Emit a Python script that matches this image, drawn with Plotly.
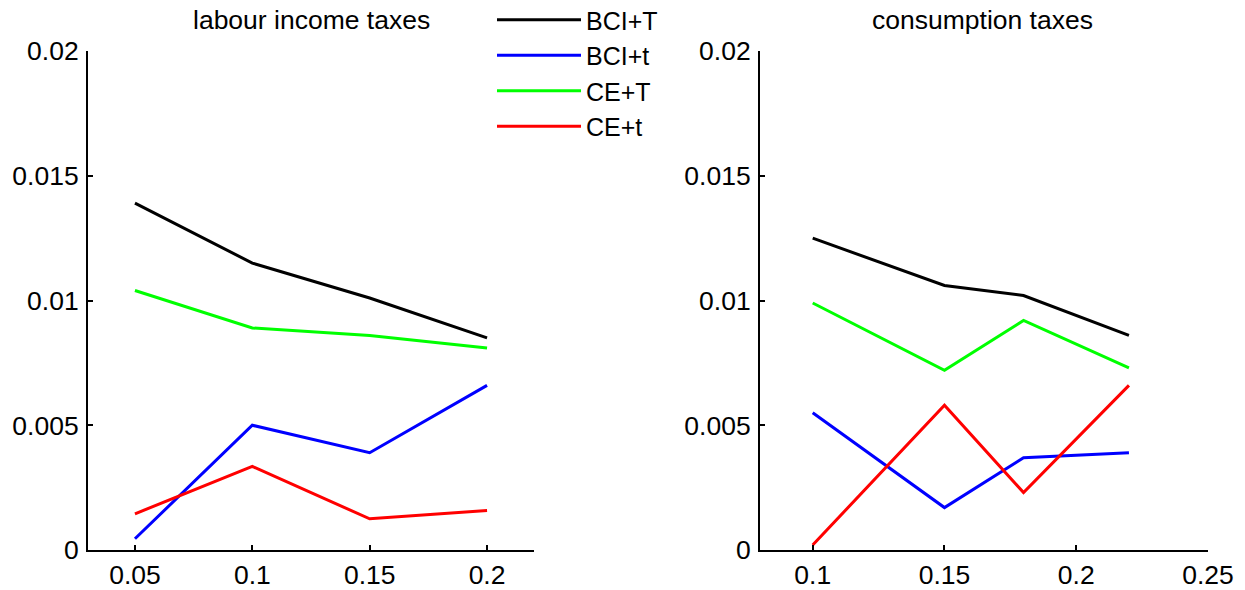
import plotly.graph_objects as go

# Labour income tax rates (left panel)
labour_x = [0.05, 0.10, 0.15, 0.20]
labour_bci_T = [0.0139, 0.0115, 0.0101, 0.0085]
labour_bci_t = [0.00045, 0.0050, 0.0039, 0.0066]
labour_ce_T = [0.0104, 0.0089, 0.0086, 0.0081]
labour_ce_t = [0.00145, 0.00335, 0.00125, 0.00158]

# Consumption tax rates (right panel)
cons_x = [0.10, 0.15, 0.18, 0.22]
cons_bci_T = [0.0125, 0.0106, 0.0102, 0.0086]
cons_bci_t = [0.0055, 0.0017, 0.0037, 0.0039]
cons_ce_T = [0.0099, 0.0072, 0.0092, 0.0073]
cons_ce_t = [0.0002, 0.0058, 0.0023, 0.0066]

series_names = ["BCI+T", "BCI+t", "CE+T", "CE+t"]
series_colors = ["#000000", "#0000ff", "#00ff00", "#ff0000"]

labour_x_ticks = [0.05, 0.10, 0.15, 0.20]
labour_x_labels = ["0.05", "0.1", "0.15", "0.2"]
cons_x_ticks = [0.10, 0.15, 0.20, 0.25]
cons_x_labels = ["0.1", "0.15", "0.2", "0.25"]
y_ticks = [0, 0.005, 0.01, 0.015, 0.02]
y_labels = ["0", "0.005", "0.01", "0.015", "0.02"]

FONT = "Liberation Sans, Arial, sans-serif"
FS = 26.5

fig = go.Figure()

left_series = [labour_bci_T, labour_bci_t, labour_ce_T, labour_ce_t]
right_series = [cons_bci_T, cons_bci_t, cons_ce_T, cons_ce_t]

for name, color, ys in zip(series_names, series_colors, left_series):
    fig.add_trace(go.Scatter(x=labour_x, y=ys, mode="lines", name=name,
                             line=dict(color=color, width=3),
                             xaxis="x", yaxis="y", showlegend=True))
for name, color, ys in zip(series_names, series_colors, right_series):
    fig.add_trace(go.Scatter(x=cons_x, y=ys, mode="lines", name=name,
                             line=dict(color=color, width=3),
                             xaxis="x2", yaxis="y2", showlegend=False))

W, H = 1245, 590
axis_common = dict(showline=True, linecolor="black", linewidth=2,
                   ticks="inside", ticklen=5, tickwidth=2, tickcolor="black",
                   showgrid=False, zeroline=False, automargin=False,
                   tickfont=dict(family=FONT, size=FS, color="black"))

fig.update_layout(
    width=W, height=H,
    margin=dict(l=0, r=0, t=0, b=0, autoexpand=False),
    paper_bgcolor="white", plot_bgcolor="white",
    font=dict(family=FONT, size=FS, color="black"),
    xaxis=dict(domain=[88 / W, 534 / W], range=[0.03, 0.22],
               tickvals=labour_x_ticks, ticktext=labour_x_labels,
               anchor="y", ticklabelstandoff=0, **axis_common),
    yaxis=dict(domain=[1 - 550 / H, 1 - 51 / H], range=[0, 0.02],
               tickvals=y_ticks, ticktext=y_labels,
               anchor="x", ticklabelstandoff=2, **axis_common),
    xaxis2=dict(domain=[760 / W, 1208 / W], range=[0.08, 0.25],
                tickvals=cons_x_ticks, ticktext=cons_x_labels,
                anchor="y2", ticklabelstandoff=0, **axis_common),
    yaxis2=dict(domain=[1 - 550 / H, 1 - 51 / H], range=[0, 0.02],
                tickvals=y_ticks, ticktext=y_labels,
                anchor="x2", ticklabelstandoff=2, **axis_common),
    legend=dict(x=492 / W, y=1.005, xanchor="left", yanchor="top",
                bgcolor="rgba(0,0,0,0)", borderwidth=0,
                font=dict(family=FONT, size=25, color="black"),
                itemwidth=84, tracegroupgap=0),
    annotations=[
        dict(text="labour income taxes", x=311 / W, y=1 - 20 / H,
             xref="paper", yref="paper", xanchor="center", yanchor="middle",
             showarrow=False,
             font=dict(family=FONT, size=FS, color="black")),
        dict(text="consumption taxes", x=982 / W, y=1 - 20 / H,
             xref="paper", yref="paper", xanchor="center", yanchor="middle",
             showarrow=False,
             font=dict(family=FONT, size=FS, color="black")),
    ],
)

fig.write_html("out.html")
